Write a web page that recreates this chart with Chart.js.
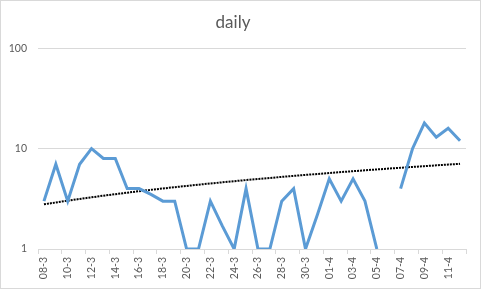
<!DOCTYPE html>
<html>
<head>
<meta charset="utf-8">
<script src="https://cdn.jsdelivr.net/npm/chart.js@4.4.1/dist/chart.umd.min.js"></script>
<style>
  html, body { margin: 0; padding: 0; background: #fff; }
  #wrap { width: 481px; height: 289px; }
</style>
</head>
<body>
<div id="wrap"><canvas id="linechart" width="481" height="289"></canvas></div>
<script>
// data
const labels = ['08-3', '09-3', '10-3', '11-3', '12-3', '13-3', '14-3', '15-3', '16-3', '17-3',
                '18-3', '19-3', '20-3', '21-3', '22-3', '23-3', '24-3', '25-3', '26-3', '27-3',
                '28-3', '29-3', '30-3', '31-3', '01-4', '02-4', '03-4', '04-4', '05-4', '06-4',
                '07-4', '08-4', '09-4', '10-4', '11-4', '12-4'];
const daily = [3, 7, 3, 7, 10, 8, 8, 4, 4, 3.5,
               3, 3, 1, 1, 3, 1.7, 1, 4, 1, 1,
               3, 4, 1, 2.2, 5, 3, 5, 3, 1, 0,
               4, 10, 18, 13, 16, 12];
const yTicks = [1, 10, 100];

// linear trendline (least squares, like the spreadsheet does)
function linearTrend(values) {
    const n = values.length;
    let sx = 0, sy = 0, sxy = 0, sxx = 0;
    values.forEach(function(v, i) {
        const x = i + 1;
        sx += x; sy += v; sxy += x * v; sxx += x * x;
    });
    const b = (n * sxy - sx * sy) / (n * sxx - sx * sx);
    const a = (sy - b * sx) / n;
    return values.map(function(v, i) { return a + b * (i + 1); });
}

const grey = '#d9d9d9';
const textColor = '#595959';

const frame = {
    id: 'frame',
    beforeDraw(chart) {
        const c = chart.ctx;
        c.save();
        c.fillStyle = '#fff';
        c.fillRect(0, 0, chart.width, chart.height);
        c.strokeStyle = grey;
        c.lineWidth = 1;
        c.strokeRect(0.5, 0.5, chart.width - 1, chart.height - 1);
        c.restore();
    }
};

const ctx = document.getElementById('linechart').getContext('2d');
const dailyChart = new Chart(ctx, {
    type: 'line',
    data: {
        labels: labels,
        datasets: [{
            label: 'daily',
            data: daily.map(function(v) { return v > 0 ? v : null; }),
            borderColor: '#5b9bd5',
            borderWidth: 3,
            pointRadius: 0,
            tension: 0,
            spanGaps: false
        }, {
            label: 'trend',
            data: linearTrend(daily),
            borderColor: '#000',
            borderWidth: 2,
            borderDash: [2, 1],
            pointRadius: 0,
            tension: 0
        }]
    },
    options: {
        responsive: false,
        animation: false,
        layout: { padding: { left: 0, right: 15, top: 0, bottom: 0 } },
        plugins: {
            legend: { display: false },
            tooltip: { enabled: false },
            title: {
                display: true,
                text: 'daily',
                color: textColor,
                font: { family: 'Lato', size: 17, weight: 'normal' },
                padding: { top: 12, bottom: 16 }
            }
        },
        scales: {
            x: {
                offset: true,
                grid: {
                    offset: true,
                    drawOnChartArea: false,
                    tickLength: 5,
                    color: function(c) { return c.index % 2 ? 'rgba(0,0,0,0)' : grey; }
                },
                border: { color: grey },
                ticks: {
                    autoSkip: false,
                    minRotation: 90,
                    maxRotation: 90,
                    padding: 3,
                    color: textColor,
                    font: { family: 'Lato', size: 10.5 },
                    callback: function(v, i) { return i % 2 ? '' : labels[i]; }
                },
                afterFit: function(scale) { scale.height = 40; }
            },
            y: {
                type: 'logarithmic',
                min: 1,
                max: 100,
                grid: { color: grey, drawTicks: false },
                border: { display: false },
                ticks: {
                    padding: 11,
                    color: textColor,
                    font: { family: 'Lato', size: 10.5 },
                    callback: function(v) { return String(v); }
                },
                afterBuildTicks: function(scale) {
                    scale.ticks = yTicks.map(function(v) { return { value: v }; });
                },
                afterFit: function(scale) { scale.width = 38; }
            }
        }
    },
    plugins: [frame]
});
</script>
</body>
</html>
